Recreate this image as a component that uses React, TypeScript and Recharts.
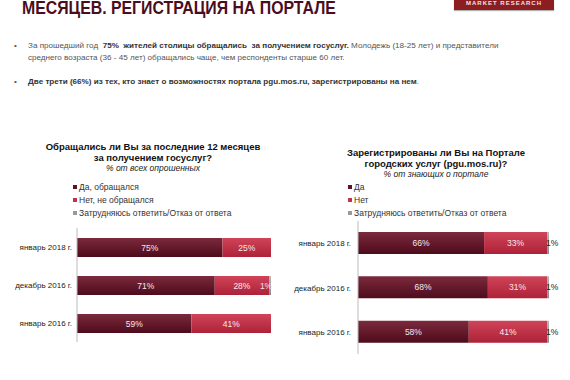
import { BarChart, Bar, XAxis, YAxis, LabelList } from 'recharts'

const periods = ['январь 2018 г.', 'декабрь 2016 г.', 'январь 2016 г.']

// Обращались ли за госуслугами, % от всех опрошенных
const appliedYes = [75, 71, 59]
const appliedNo = [25, 28, 41]
const appliedUnsure = [0, 1, 0]

// Зарегистрированы на pgu.mos.ru, % от знающих о портале
const registeredYes = [66, 68, 58]
const registeredNo = [33, 31, 41]
const registeredUnsure = [1, 1, 1]

const leftLegend = ['Да, обращался', 'Нет, не обращался', 'Затрудняюсь ответить/Отказ от ответа']
const rightLegend = ['Да', 'Нет', 'Затрудняюсь ответить/Отказ от ответа']

const MAROON = '#5e1326'
const RED = '#c0324a'
const GRAY = '#9a9a9a'
const FONT = '"Liberation Sans", Arial, sans-serif'

const leftData = periods.map((p, i) => ({
  period: p, yes: appliedYes[i], no: appliedNo[i], unsure: appliedUnsure[i],
}))
const rightData = periods.map((p, i) => ({
  period: p, yes: registeredYes[i], no: registeredNo[i], unsure: registeredUnsure[i],
}))

const pct = (v: any) => (v ? `${v}%` : '')

function unsureLabel(dx: number, fill: string) {
  return (props: any) => {
    const { x, y, width, height, value } = props
    if (!value) return null
    return (
      <text x={x + width / 2 + dx} y={y + height / 2} dy={3} textAnchor="middle"
        fontSize={8.5} fill={fill} fontFamily={FONT}>
        {value}%
      </text>
    )
  }
}

// plain tick so the long period names don't get wrapped
function PeriodTick(props: any) {
  const { x, y, payload } = props
  return (
    <text x={x} y={y} dy={3} textAnchor="end" fontSize={8} fill="#222" fontFamily={FONT}>
      {payload.value}
    </text>
  )
}

function Gradients({ id }: { id: string }) {
  return (
    <defs>
      <linearGradient id={`${id}-yes`} x1="0" y1="0" x2="0" y2="1">
        <stop offset="0%" stopColor="#7c2a3d" />
        <stop offset="100%" stopColor="#4d0b1b" />
      </linearGradient>
      <linearGradient id={`${id}-no`} x1="0" y1="0" x2="0" y2="1">
        <stop offset="0%" stopColor="#cf4458" />
        <stop offset="100%" stopColor="#ae2239" />
      </linearGradient>
      <linearGradient id={`${id}-unsure`} x1="0" y1="0" x2="0" y2="1">
        <stop offset="0%" stopColor="#b5b5b5" />
        <stop offset="100%" stopColor="#8a8a8a" />
      </linearGradient>
    </defs>
  )
}

function Legend({ items, left, top }: { items: string[]; left: number; top: number }) {
  const colors = [MAROON, RED, GRAY]
  return (
    <div style={{ position: 'absolute', left, top, fontFamily: FONT, fontSize: 8.5, color: '#333' }}>
      {items.map((t, i) => (
        <div key={t} style={{ height: 13.3, display: 'flex', alignItems: 'center', whiteSpace: 'nowrap' }}>
          <span style={{ width: 4, height: 4, background: colors[i], marginRight: 2, display: 'inline-block' }} />
          {t}
        </div>
      ))}
    </div>
  )
}

function Title({ lines, sub, cx, top }: { lines: string[]; sub: string; cx: number; top: number }) {
  return (
    <div style={{ position: 'absolute', left: cx - 150, width: 300, top, textAlign: 'center', fontFamily: FONT, color: '#111' }}>
      {lines.map(l => (
        <div key={l} style={{ fontWeight: 'bold', fontSize: 9.5, lineHeight: '11px' }}>{l}</div>
      ))}
      <div style={{ fontStyle: 'italic', fontSize: 8.5, lineHeight: '11px', color: '#222' }}>{sub}</div>
    </div>
  )
}

export default function App() {
  return (
    <div style={{ position: 'absolute', left: 0, top: 0, width: 570, height: 380, background: '#fff', overflow: 'hidden', fontFamily: FONT }}>
      <div style={{
        position: 'absolute', left: 22, top: 0, fontSize: 18, lineHeight: '17px', fontWeight: 'bold', color: '#4b0d1e',
        whiteSpace: 'nowrap', transform: 'scaleX(0.88)', transformOrigin: 'left',
      }}>
        МЕСЯЦЕВ. РЕГИСТРАЦИЯ НА ПОРТАЛЕ
      </div>
      <div style={{
        position: 'absolute', left: 454, top: 0, width: 100, height: 10, background: '#8c1d20',
        boxShadow: '0 1px 1px rgba(0,0,0,0.3)', color: '#f3e3e3', fontSize: 6, fontWeight: 'bold',
        letterSpacing: 1, textAlign: 'center', lineHeight: '6px',
      }}>
        MARKET RESEARCH
      </div>

      <div style={{ position: 'absolute', left: 0, top: 41, fontSize: 8.1, color: '#555', whiteSpace: 'nowrap' }}>
        <div style={{ position: 'absolute', left: 14, top: 0 }}>•</div>
        <div style={{ position: 'absolute', left: 28, top: 0 }}>
          За прошедший год&nbsp; <b style={{ color: '#333' }}>75%&nbsp; жителей столицы обращались&nbsp; за получением госуслуг.</b> Молодежь (18-25 лет) и представители
        </div>
        <div style={{ position: 'absolute', left: 28, top: 11.5 }}>
          среднего возраста (36 - 45 лет) обращались чаще, чем респонденты старше 60 лет.
        </div>
        <div style={{ position: 'absolute', left: 14, top: 36 }}>•</div>
        <div style={{ position: 'absolute', left: 28, top: 36 }}>
          <b style={{ color: '#333' }}>Две трети (66%) из тех, кто знает о возможностях портала pgu.mos.ru, зарегистрированы на нем</b>.
        </div>
      </div>

      <Title lines={['Обращались ли Вы за последние 12 месяцев', 'за получением госуслуг?']}
        sub="% от всех опрошенных" cx={153} top={141} />
      <Legend items={leftLegend} left={73} top={180} />

      <Title lines={['Зарегистрированы ли Вы на Портале', 'городских услуг (pgu.mos.ru)?']}
        sub="% от знающих о портале" cx={436} top={147} />
      <Legend items={rightLegend} left={348} top={180} />

      <div style={{ position: 'absolute', left: 0, top: 224 }}>
        <BarChart width={290} height={122} data={leftData} layout="vertical"
          margin={{ top: 4, right: 19, bottom: 4, left: 0 }}>
          <Gradients id="l" />
          <XAxis type="number" domain={[0, 100]} hide />
          <YAxis type="category" dataKey="period" width={77} tick={<PeriodTick />} tickLine={false}
            tickSize={4} tickMargin={1} axisLine={{ stroke: '#bbb' }} />
          <Bar dataKey="yes" stackId="a" barSize={19} fill="url(#l-yes)" isAnimationActive={false}>
            <LabelList dataKey="yes" position="center" formatter={pct} fill="#f4e6ea" fontSize={8.5} fontFamily={FONT} />
          </Bar>
          <Bar dataKey="no" stackId="a" barSize={19} fill="url(#l-no)" isAnimationActive={false}>
            <LabelList dataKey="no" position="center" formatter={pct} fill="#f8e8ea" fontSize={8.5} fontFamily={FONT} />
          </Bar>
          <Bar dataKey="unsure" stackId="a" barSize={19} fill="url(#l-unsure)" isAnimationActive={false}>
            <LabelList dataKey="unsure" content={unsureLabel(-4, '#f3e0e4')} />
          </Bar>
        </BarChart>
      </div>

      <div style={{ position: 'absolute', left: 290, top: 217 }}>
        <BarChart width={280} height={141} data={rightData} layout="vertical"
          margin={{ top: 4, right: 21, bottom: 4, left: 0 }}>
          <Gradients id="r" />
          <XAxis type="number" domain={[0, 100]} hide />
          <YAxis type="category" dataKey="period" width={68} tick={<PeriodTick />} tickLine={false}
            tickSize={5} tickMargin={2} axisLine={{ stroke: '#bbb' }} />
          <Bar dataKey="yes" stackId="a" barSize={22} fill="url(#r-yes)" isAnimationActive={false}>
            <LabelList dataKey="yes" position="center" formatter={pct} fill="#f4e6ea" fontSize={8.5} fontFamily={FONT} />
          </Bar>
          <Bar dataKey="no" stackId="a" barSize={22} fill="url(#r-no)" isAnimationActive={false}>
            <LabelList dataKey="no" position="center" formatter={pct} fill="#f8e8ea" fontSize={8.5} fontFamily={FONT} />
          </Bar>
          <Bar dataKey="unsure" stackId="a" barSize={22} fill="url(#r-unsure)" isAnimationActive={false}>
            <LabelList dataKey="unsure" content={unsureLabel(4, '#222')} />
          </Bar>
        </BarChart>
      </div>
    </div>
  )
}
